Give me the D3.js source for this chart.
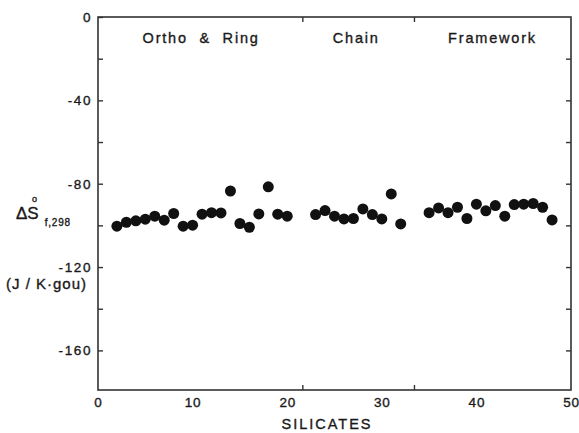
<!DOCTYPE html>
<html>
<head>
<meta charset="utf-8">
<script src="https://cdn.jsdelivr.net/npm/d3@7"></script>
<style>
  body { margin: 0; background: #fff; }
  svg text { font-family: "Liberation Sans", Arial, sans-serif; fill: #1a1a1a; stroke: #1a1a1a; stroke-width: 0.35; }
</style>
</head>
<body>
<svg width="579" height="433"></svg>
<script>
// silicate index and entropy values
var orthoX = [2,3,4,5,6,7,8,9,10,11,12,13,14,15,16,17,18,19,20]
var orthoY = [-100.4,-98.5,-97.8,-97.0,-95.6,-97.5,-94.3,-100.4,-99.9,-94.6,-93.9,-94.0,-83.5,-99.1,-100.9,-94.5,-81.5,-94.6,-95.6]
var chainX = [23,24,25,26,27,28,29,30,31,32]
var chainY = [-94.8,-92.9,-95.6,-96.9,-96.7,-92.1,-94.8,-96.9,-84.9,-99.3]
var frameX = [35,36,37,38,39,40,41,42,43,44,45,46,47,48]
var frameY = [-93.9,-91.6,-93.9,-91.3,-96.7,-89.8,-93.0,-90.5,-95.6,-90.0,-89.8,-89.5,-91.3,-97.4]

var groupNames = ['Ortho  &  Ring', 'Chain', 'Framework']
var groupCenters = [10.9, 27.3, 41.7]
var dividers = [21.6, 33.4]

var xTicks = [0,10,20,30,40,50]
var yMajor = [0,-40,-80,-120,-160]
var yMinor = [-20,-60,-100,-140]

// plot box ("top" is taken by window.top, so use other names)
var pL = 98, pR = 571, pT = 17, pB = 390

var x = d3.scaleLinear().domain([0,50]).range([pL,pR])
var y = d3.scaleLinear().domain([0,-179]).range([pT,pB])

var svg = d3.select('svg')

// frame
svg.append('rect')
  .attr('x', pL).attr('y', pT)
  .attr('width', pR-pL).attr('height', pB-pT)
  .attr('fill', 'none').attr('stroke', '#333').attr('stroke-width', 1.6)

function styleAxis(g, ls){
  g.select('.domain').remove()
  g.selectAll('line').attr('stroke', '#333').attr('stroke-width', 1.4)
  g.selectAll('text').attr('font-size', 13.5).attr('letter-spacing', ls == null ? 1.6 : ls)
    .attr('font-family', '"Liberation Sans", Arial, sans-serif').attr('fill', '#1a1a1a')
}

// left axis, ticks pointing inward
svg.append('g').attr('transform', 'translate(' + pL + ',0)')
  .call(d3.axisLeft(y).tickValues(yMajor.concat(yMinor)).tickSizeInner(-5).tickSizeOuter(0)
    .tickPadding(6).tickFormat(function(d){ return yMajor.indexOf(d) >= 0 ? String(d) : '' }))
  .call(styleAxis)

// right axis ticks
svg.append('g').attr('transform', 'translate(' + pR + ',0)')
  .call(d3.axisRight(y).tickValues(yMajor.concat(yMinor).filter(function(d){ return d != 0 }))
    .tickSizeInner(-5).tickSizeOuter(0).tickFormat(''))
  .call(styleAxis)

// bottom labels
svg.append('g').attr('transform', 'translate(0,' + pB + ')')
  .call(d3.axisBottom(x).tickValues(xTicks).tickSize(0).tickPadding(7).tickFormat(function(d){ return String(d) }))
  .call(styleAxis, 0.8)

// group dividers top and bottom
svg.append('g').attr('transform', 'translate(0,' + pB + ')')
  .call(d3.axisBottom(x).tickValues(dividers).tickSizeInner(-5).tickSizeOuter(0).tickFormat(''))
  .call(styleAxis)
svg.append('g').attr('transform', 'translate(0,' + pT + ')')
  .call(d3.axisTop(x).tickValues(dividers).tickSizeInner(-5).tickSizeOuter(0).tickFormat(''))
  .call(styleAxis)

// group names
svg.selectAll('.grp')
  .data(groupNames)
  .enter()
  .append('text')
  .attr('class', 'grp')
  .attr('x', function(d,i){ return x(groupCenters[i]) })
  .attr('y', 43)
  .attr('text-anchor', 'middle')
  .attr('font-size', 14.5)
  .attr('letter-spacing', 1.8)
  .style('white-space', 'pre')
  .text(function(d){ return d })

// points
var pts = []
orthoX.forEach(function(d,i){ pts.push([d, orthoY[i]]) })
chainX.forEach(function(d,i){ pts.push([d, chainY[i]]) })
frameX.forEach(function(d,i){ pts.push([d, frameY[i]]) })

svg.selectAll('circle.pt')
  .data(pts)
  .enter()
  .append('circle')
  .attr('class', 'pt')
  .attr('cx', function(d){ return x(d[0]) })
  .attr('cy', function(d){ return y(d[1]) })
  .attr('r', 5.5)
  .attr('fill', '#111')

// x title
svg.append('text')
  .attr('x', 327).attr('y', 429)
  .attr('text-anchor', 'middle')
  .attr('font-size', 14.5)
  .attr('letter-spacing', 2)
  .text('SILICATES')

// y title
var lab = svg.append('text').attr('x', 16).attr('y', 219).attr('font-size', 17)
lab.append('tspan').text('ΔS')
lab.append('tspan').attr('font-size', 10).attr('dy', 7).attr('dx', 6).attr('letter-spacing', 0.8).text('f,298')
svg.append('text').attr('x', 32).attr('y', 202).attr('font-size', 9).text('o')

svg.append('text')
  .attr('x', 6).attr('y', 289)
  .attr('font-size', 15)
  .attr('letter-spacing', 1)
  .style('white-space', 'pre')
  .text('(J / K·gou)')
</script>
</body>
</html>
